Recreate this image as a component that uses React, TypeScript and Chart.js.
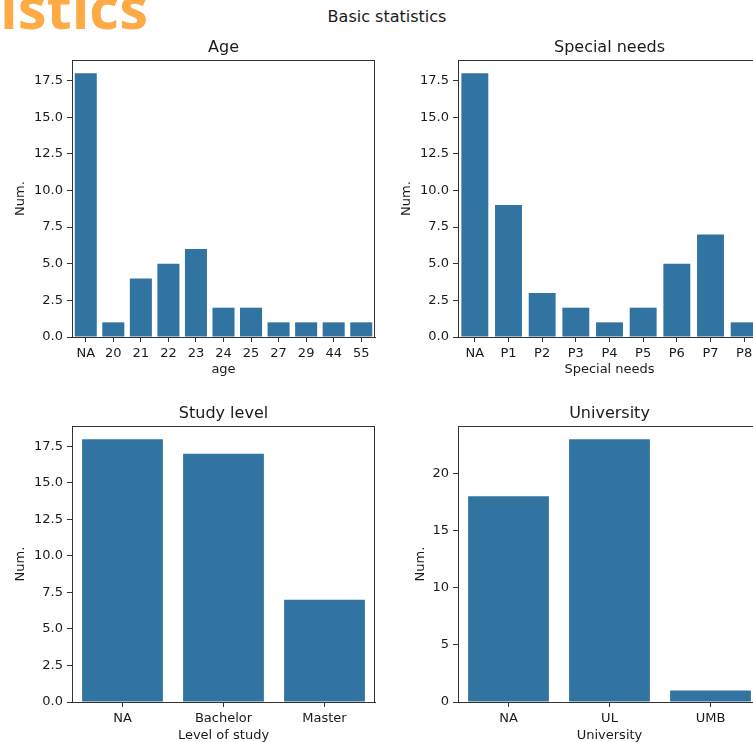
import React, { useEffect, useRef } from 'react';
import { Chart, registerables } from 'chart.js';

Chart.register(...registerables);

// ---- data ----
const ageCategories = ['NA', '20', '21', '22', '23', '24', '25', '27', '29', '44', '55'];
const ageCounts = [18, 1, 4, 5, 6, 2, 2, 1, 1, 1, 1];

const needsCategories = ['NA', 'P1', 'P2', 'P3', 'P4', 'P5', 'P6', 'P7', 'P8'];
const needsCounts = [18, 9, 3, 2, 1, 2, 5, 7, 1];

const levelCategories = ['NA', 'Bachelor', 'Master'];
const levelCounts = [18, 17, 7];

const uniCategories = ['NA', 'UL', 'UMB'];
const uniCounts = [18, 23, 1];

const halfStepTicks = [0, 2.5, 5, 7.5, 10, 12.5, 15, 17.5];
const fiveStepTicks = [0, 5, 10, 15, 20];

// ---- styles ----
const BAR = '#3274a1';
const AXIS = '#333333';
const TEXT = '#1a1a1a';
const FONT = '"DejaVu Sans", sans-serif';

Chart.defaults.font.family = FONT;
Chart.defaults.font.size = 13;
Chart.defaults.color = TEXT;

const framePlugin = {
  id: 'frame',
  afterDraw(chart: any, _args: any, opts: any) {
    const { ctx, chartArea } = chart;
    const { left, top, right, bottom } = chartArea;
    ctx.save();
    ctx.strokeStyle = AXIS;
    ctx.lineWidth = 1;
    ctx.beginPath();
    const yT = Math.round(top) + 0.5;
    const xR = Math.round(right) - 0.5;
    ctx.moveTo(Math.round(left), yT);
    ctx.lineTo(xR + 0.5, yT);
    ctx.moveTo(xR, yT);
    ctx.lineTo(xR, Math.round(bottom) + 0.5);
    ctx.stroke();
    if (opts && opts.title) {
      ctx.fillStyle = TEXT;
      ctx.font = `16px ${FONT}`;
      ctx.textAlign = 'center';
      ctx.textBaseline = 'alphabetic';
      ctx.fillText(opts.title, (left + right) / 2, top - 8);
    }
    ctx.restore();
  },
};

type PanelProps = {
  categories: string[];
  values: number[];
  ticks: number[];
  decimals: number;
  title: string;
  xLabel: string;
  left: number;
  top: number;
  xAxisH: number;
  yTitlePad: number;
};

const W = 380;
const H = 350;

function Panel(p: PanelProps) {
  const ref = useRef<HTMLCanvasElement | null>(null);
  useEffect(() => {
    if (!ref.current) return;
    const yMax = Math.max(...p.values) * 1.05;
    const chart = new Chart(ref.current, {
      type: 'bar',
      data: {
        labels: p.categories,
        datasets: [
          {
            data: p.values,
            backgroundColor: BAR,
            borderWidth: 0,
            barPercentage: 0.8,
            categoryPercentage: 1,
          },
        ],
      },
      options: {
        responsive: false,
        maintainAspectRatio: false,
        animation: false,
        layout: { padding: { top: 30, right: 5, left: 0, bottom: 0 } },
        plugins: {
          legend: { display: false },
          tooltip: { enabled: false },
          title: { display: false },
          // @ts-ignore
          frame: { title: p.title },
        },
        scales: {
          x: {
            type: 'category',
            offset: true,
            grid: {
              display: true,
              drawOnChartArea: false,
              drawTicks: true,
              tickLength: 5,
              color: AXIS,
              offset: false,
            },
            border: { display: true, color: AXIS, width: 1 },
            ticks: { color: TEXT, font: { size: 13 }, padding: 4, maxRotation: 0, autoSkip: false },
            title: {
              display: true,
              text: p.xLabel,
              color: TEXT,
              font: { size: 13, lineHeight: 1 },
              padding: { top: 0, bottom: 3.5 },
            },
            afterFit: (s: any) => {
              s.height = p.xAxisH;
            },
          },
          y: {
            type: 'linear',
            min: 0,
            max: yMax,
            afterBuildTicks: (s: any) => {
              s.ticks = p.ticks.map((v) => ({ value: v }));
            },
            grid: {
              display: true,
              drawOnChartArea: false,
              drawTicks: true,
              tickLength: 5,
              color: AXIS,
            },
            border: { display: true, color: AXIS, width: 1 },
            ticks: {
              color: TEXT,
              font: { size: 13 },
              padding: 4,
              callback: (v: any) => Number(v).toFixed(p.decimals),
            },
            title: {
              display: true,
              text: 'Num.',
              color: TEXT,
              font: { size: 13, lineHeight: 1 },
              padding: { top: p.yTitlePad, bottom: 0 },
            },
            afterFit: (s: any) => {
              s.width = 72;
            },
          },
        },
      } as any,
      plugins: [framePlugin],
    });
    return () => chart.destroy();
  }, []);
  return (
    <canvas
      ref={ref}
      width={W}
      height={H}
      style={{ position: 'absolute', left: p.left, top: p.top, width: W, height: H }}
    />
  );
}

export default function App() {
  return (
    <div
      style={{
        position: 'fixed',
        left: 0,
        top: 0,
        width: 753,
        height: 742,
        overflow: 'hidden',
        background: '#ffffff',
      }}
    >
      <div
        style={{
          position: 'absolute',
          right: 753 - 148,
          top: -22,
          fontFamily: '"Open Sans", sans-serif',
          fontWeight: 700,
          fontSize: 58,
          lineHeight: '58px',
          color: '#ffaa44',
          whiteSpace: 'nowrap',
        }}
      >
        Statistics
      </div>
      <div
        style={{
          position: 'absolute',
          left: 387,
          top: 8.5,
          transform: 'translateX(-50%)',
          fontFamily: FONT,
          fontSize: 16,
          lineHeight: '16px',
          color: TEXT,
          whiteSpace: 'nowrap',
        }}
      >
        Basic statistics
      </div>
      <Panel
        categories={ageCategories}
        values={ageCounts}
        ticks={halfStepTicks}
        decimals={1}
        title="Age"
        xLabel="age"
        left={0}
        top={30}
        xAxisH={43}
        yTitlePad={14.5}
      />
      <Panel
        categories={needsCategories}
        values={needsCounts}
        ticks={halfStepTicks}
        decimals={1}
        title="Special needs"
        xLabel="Special needs"
        left={386}
        top={30}
        xAxisH={43}
        yTitlePad={14.5}
      />
      <Panel
        categories={levelCategories}
        values={levelCounts}
        ticks={halfStepTicks}
        decimals={1}
        title="Study level"
        xLabel="Level of study"
        left={0}
        top={396}
        xAxisH={44}
        yTitlePad={14.5}
      />
      <Panel
        categories={uniCategories}
        values={uniCounts}
        ticks={fiveStepTicks}
        decimals={0}
        title="University"
        xLabel="University"
        left={386}
        top={396}
        xAxisH={44}
        yTitlePad={28.5}
      />
    </div>
  );
}
